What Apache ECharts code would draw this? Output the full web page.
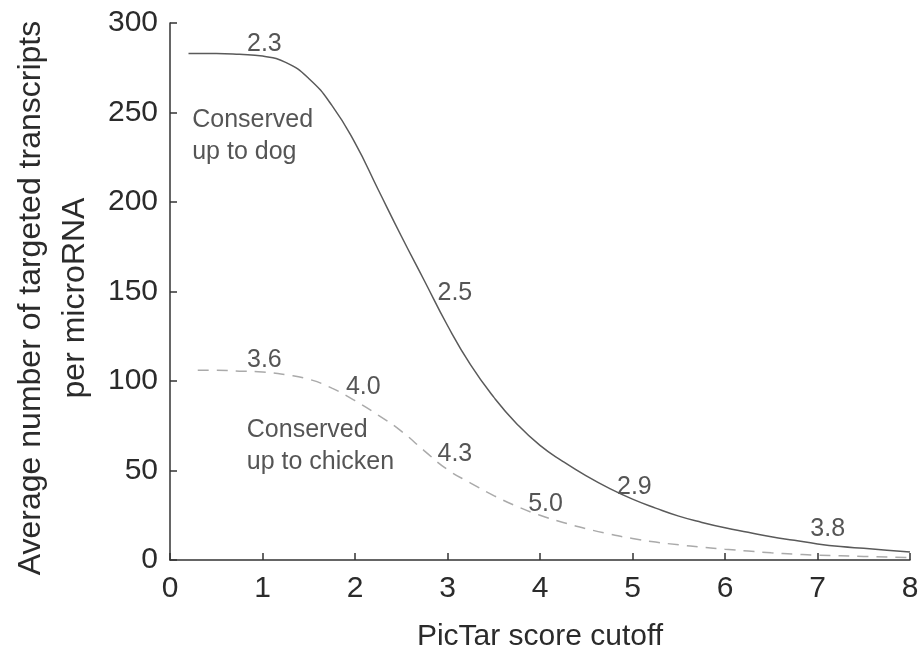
<!DOCTYPE html>
<html>
<head>
<meta charset="utf-8">
<script src="https://cdn.jsdelivr.net/npm/echarts@6/dist/echarts.min.js"></script>
<style>
  html, body { margin: 0; padding: 0; background: #fff; }
  #main { width: 924px; height: 652px; }
</style>
</head>
<body>
<div id="main"></div>
<script>
// 保守到狗 (实线)
var dogX = [0.2, 0.5, 0.75, 1.0, 1.25, 1.5, 1.75, 2.0, 2.25, 2.5, 2.75, 3.0, 3.25, 3.5, 3.75, 4.0, 4.25, 4.5, 4.75, 5.0, 5.25, 5.5, 5.75, 6.0, 6.25, 6.5, 6.75, 7.0, 7.25, 7.5, 7.75, 8.0];
var dogY = [283, 283, 282.5, 281.5, 278, 269, 254, 233, 207, 181, 156, 131, 109, 91, 76, 64, 55, 47, 40, 34, 29, 24.5, 21, 18, 15.5, 13, 11, 9, 7.5, 6.5, 5.5, 4.5];
// 保守到鸡 (虚线)
var chickenX = [0.3, 0.5, 0.75, 1.0, 1.25, 1.5, 1.75, 2.0, 2.25, 2.5, 2.75, 3.0, 3.25, 3.5, 3.75, 4.0, 4.25, 4.5, 4.75, 5.0, 5.25, 5.5, 5.75, 6.0, 6.25, 6.5, 6.75, 7.0, 7.5, 8.0];
var chickenY = [106, 106, 105.5, 105, 103.5, 101, 96, 89, 81, 72, 61, 50.5, 43, 36, 30, 25, 21, 17.5, 14.5, 12, 10, 8.5, 7.2, 6, 5, 4, 3.3, 2.7, 2, 1.3];

// 曲线上的数值标注
var noteText = ['2.3', '2.5', '2.9', '3.8', '3.6', '4.0', '4.3', '5.0'];
var noteX = [1.02, 3.08, 5.02, 7.11, 1.02, 2.09, 3.08, 4.06];
var noteY = [288.4, 149, 40.5, 17.3, 111.8, 96.4, 59.2, 31.3];

// 曲线说明文字
var tagText = ['Conserved\nup to dog', 'Conserved\nup to chicken'];
var tagX = [0.24, 0.83];
var tagY = [237, 63.5];

var xTicks = [0, 1, 2, 3, 4, 5, 6, 7, 8];
var yTicks = [0, 50, 100, 150, 200, 250, 300];

function pairs(xs, ys) {
    var out = [];
    for (var i = 0; i < xs.length; i++) out.push([xs[i], ys[i]]);
    return out;
}

var font = 'Liberation Sans, Arial, sans-serif';
var textColor = '#2b2b2b';
var myChart = echarts.init(document.getElementById('main'));

var notes = [];
for (var i = 0; i < noteText.length; i++) {
    notes.push({value: [noteX[i], noteY[i]], label: {formatter: noteText[i]}});
}
var tags = [];
for (var j = 0; j < tagText.length; j++) {
    tags.push({value: [tagX[j], tagY[j]], label: {formatter: tagText[j]}});
}

var option = {
    animation: false,
    backgroundColor: '#fff',
    grid: {left: 170, right: 14, top: 23, bottom: 92, outerBoundsMode: 'none'},
    xAxis: {
        type: 'value',
        min: xTicks[0],
        max: xTicks[xTicks.length - 1],
        interval: 1,
        name: 'PicTar score cutoff',
        nameLocation: 'middle',
        nameGap: 62,
        nameTextStyle: {fontFamily: font, fontSize: 30, color: textColor, verticalAlign: 'top'},
        axisLine: {lineStyle: {color: '#333', width: 1.5}},
        axisTick: {inside: true, length: 7, lineStyle: {color: '#333', width: 1.5}},
        axisLabel: {fontFamily: font, fontSize: 30, color: textColor, margin: 14},
        splitLine: {show: false}
    },
    yAxis: {
        type: 'value',
        min: yTicks[0],
        max: yTicks[yTicks.length - 1],
        interval: 50,
        name: 'Average number of targeted transcripts\nper microRNA',
        nameLocation: 'middle',
        nameRotate: 90,
        nameGap: 72,
        nameTextStyle: {fontFamily: font, fontSize: 32, color: textColor, lineHeight: 44, padding: [0, 13, 0, 0]},
        axisLine: {show: true, lineStyle: {color: '#333', width: 1.5}},
        axisTick: {show: true, inside: true, length: 7, lineStyle: {color: '#333', width: 1.5}},
        axisLabel: {fontFamily: font, fontSize: 30, color: textColor, margin: 12},
        splitLine: {show: false}
    },
    series: [
        {
            name: 'Conserved up to dog',
            type: 'line',
            smooth: true,
            showSymbol: false,
            data: pairs(dogX, dogY),
            lineStyle: {color: '#5a5a5a', width: 1.5}
        },
        {
            name: 'Conserved up to chicken',
            type: 'line',
            smooth: true,
            showSymbol: false,
            data: pairs(chickenX, chickenY),
            lineStyle: {color: '#aaa', width: 1.5, type: [11, 8]}
        },
        {
            type: 'scatter',
            symbolSize: 0,
            data: notes,
            label: {show: true, position: 'inside', fontFamily: font, fontSize: 25, color: textColor}
        },
        {
            type: 'scatter',
            symbolSize: 0,
            data: tags,
            label: {show: true, position: 'right', distance: 0, fontFamily: font, fontSize: 25, color: textColor, lineHeight: 32, align: 'left'}
        }
    ]
};

myChart.setOption(option);
</script>
</body>
</html>
